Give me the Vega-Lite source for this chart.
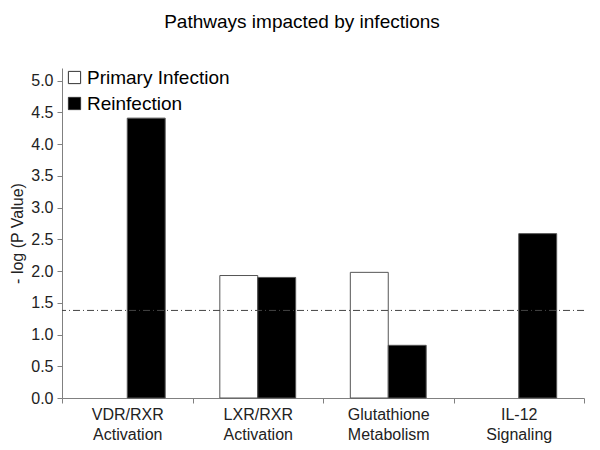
{
  "$schema": "https://vega.github.io/schema/vega-lite/v6.json",
  "width": 522,
  "height": 330,
  "autosize": {"type": "none"},
  "padding": {"left": 62, "top": 68, "right": 16, "bottom": 52},
  "background": "white",
  "config": {
    "font": "Liberation Sans",
    "view": {"stroke": null}
  },
  "title": {
    "text": "Pathways impacted by infections",
    "font": "Liberation Sans",
    "fontSize": 19,
    "fontWeight": "normal",
    "color": "black",
    "anchor": "middle",
    "dx": -21,
    "offset": 36
  },
  "encoding": {
    "y": {
      "field": "value",
      "type": "quantitative",
      "scale": {"domain": [0, 5.2], "nice": false},
      "axis": {
        "title": "- log (P Value)",
        "titleFont": "Liberation Sans",
        "titleFontSize": 16,
        "titleFontWeight": "normal",
        "titleColor": "#222222",
        "titlePadding": 5,
        "values": [0, 0.5, 1, 1.5, 2, 2.5, 3, 3.5, 4, 4.5, 5],
        "format": ".1f",
        "labelOverlap": false,
        "labelFont": "Liberation Sans",
        "labelFontSize": 16,
        "labelColor": "#222222",
        "labelPadding": 4,
        "tickSize": 5,
        "tickColor": "#808080",
        "domainColor": "#808080",
        "grid": false
      }
    }
  },
  "layer": [
    {
      "data": {
        "values": [
          {"pathway": "VDR/RXR Activation", "infection": "Reinfection", "value": 4.41},
          {"pathway": "LXR/RXR Activation", "infection": "Primary Infection", "value": 1.93},
          {"pathway": "LXR/RXR Activation", "infection": "Reinfection", "value": 1.9},
          {"pathway": "Glutathione Metabolism", "infection": "Primary Infection", "value": 1.98},
          {"pathway": "Glutathione Metabolism", "infection": "Reinfection", "value": 0.83},
          {"pathway": "IL-12 Signaling", "infection": "Reinfection", "value": 2.59}
        ]
      },
      "mark": {"type": "bar", "stroke": "#555555", "strokeWidth": 1},
      "encoding": {
        "x": {
          "field": "pathway",
          "type": "nominal",
          "sort": ["VDR/RXR Activation", "LXR/RXR Activation", "Glutathione Metabolism", "IL-12 Signaling"],
          "scale": {"paddingInner": 0, "paddingOuter": 0},
          "axis": {
            "title": null,
            "labelAngle": 0,
            "labelExpr": "split(datum.label, ' ')",
            "labelFont": "Liberation Sans",
            "labelFontSize": 16,
            "labelColor": "#222222",
            "labelLineHeight": 20,
            "labelPadding": 3,
            "tickBand": "extent",
            "tickSize": 5,
            "tickColor": "#808080",
            "domainColor": "#808080",
            "grid": false
          }
        },
        "xOffset": {
          "field": "infection",
          "type": "nominal",
          "scale": {"domain": ["Primary Infection", "Reinfection"], "paddingInner": 0, "paddingOuter": 0.72}
        },
        "fill": {
          "field": "infection",
          "type": "nominal",
          "scale": {"domain": ["Primary Infection", "Reinfection"], "range": ["white", "black"]},
          "legend": {
            "title": null,
            "orient": "none",
            "legendX": 3,
            "legendY": 0,
            "symbolType": "square",
            "symbolSize": 150,
            "symbolStrokeColor": "#333333",
            "symbolStrokeWidth": 1,
            "labelFont": "Liberation Sans",
            "labelFontSize": 19,
            "labelColor": "black",
            "labelOffset": 3,
            "rowPadding": 6
          }
        }
      }
    },
    {
      "data": {"values": [{"value": 1.38}]},
      "mark": {"type": "rule", "stroke": "#444444", "strokeWidth": 1, "strokeDash": [7, 3, 1, 3]},
      "encoding": {}
    }
  ]
}
